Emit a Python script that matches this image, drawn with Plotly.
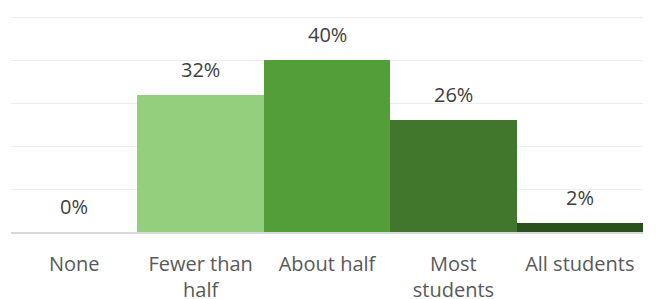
import plotly.graph_objects as go

categories = ["None", "Fewer than<br>half", "About half", "Most<br>students", "All students"]
values = [0.0, 0.32, 0.40, 0.26, 0.02]
labels = ["0%", "32%", "40%", "26%", "2%"]
colors = ["#C5E0B4", "#93CF7D", "#549E3A", "#40772C", "#2C4F1E"]
tick_vals = [0, 0.1, 0.2, 0.3, 0.4, 0.5]

FONT = "Open Sans"

fig = go.Figure()
fig.add_trace(go.Bar(x=categories, y=values, marker=dict(color=colors, line=dict(width=0)),
                     hoverinfo="skip"))

for c, v, t in zip(categories, values, labels):
    fig.add_annotation(x=c, y=v, text=t, showarrow=False, yanchor="bottom", yshift=10,
                       font=dict(family=FONT, size=20, color="#404040"))

# page body has an 8px default margin, so the figure is offset by (8, 8)
fig.update_layout(
    width=655, height=291,
    margin=dict(l=3, r=20, t=8, b=67, autoexpand=False),
    paper_bgcolor="white", plot_bgcolor="white",
    bargap=0, showlegend=False,
    font=dict(family=FONT, size=20, color="#595959"),
)
fig.update_xaxes(showline=True, linecolor="#D9D9D9", linewidth=1.5, ticks="",
                 tickfont=dict(family=FONT, size=20, color="#595959"),
                 ticklabelstandoff=13, automargin=False)
fig.update_yaxes(range=[0, 0.503], tickvals=tick_vals, showticklabels=False,
                 showgrid=True, gridcolor="#EDEDED", gridwidth=1.3, zeroline=False,
                 automargin=False)

fig.write_html("out.html")
